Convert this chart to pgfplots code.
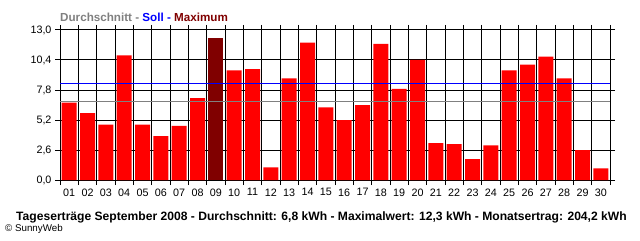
\documentclass[border=0pt]{standalone}
\usepackage{pgfplots}
\pgfplotsset{compat=1.18}
\usepackage{fontspec}
\setmainfont{Liberation Sans}
\definecolor{barred}{HTML}{FF0000}
\definecolor{maxred}{HTML}{800000}
\definecolor{avggrey}{HTML}{808080}
\definecolor{sollblue}{HTML}{0000FF}
\begin{document}
\begin{tikzpicture}[x=1bp,y=1bp]
\useasboundingbox (0,0) rectangle (640,240);
\begin{axis}[
  at={(60bp,60bp)}, anchor=south west,
  scale only axis, width=550bp, height=150bp,
  xmin=0.5, xmax=30.5, ymin=0, ymax=13,
  xtick={0.5,1.5,2.5,3.5,4.5,5.5,6.5,7.5,8.5,9.5,10.5,11.5,12.5,13.5,14.5,15.5,16.5,17.5,18.5,19.5,20.5,21.5,22.5,23.5,24.5,25.5,26.5,27.5,28.5,29.5,30.5},
  xticklabels={01,02,03,04,05,06,07,08,09,10,11,12,13,14,15,16,17,18,19,20,21,22,23,24,25,26,27,28,29,30},
  x tick label as interval,
  ytick={0,2.6,5.2,7.8,10.4,13},
  /pgf/number format/assume math mode=true,
  yticklabel style={/pgf/number format/.cd, fixed, fixed zerofill, precision=1, use comma},
  ticklabel style={font=\fontsize{10.8}{12}\selectfont},
  grid=major, grid style={black, line width=1bp},
  tick align=outside, major tick length=5bp,
  tick style={black, line width=1bp},
  axis line style={black, line width=1bp},
  clip=false,
]
\addplot[ybar, bar width=15bp, bar shift=0pt, fill=barred, draw=none] coordinates {
(1,6.7) (2,5.8) (3,4.8) (4,10.8) (5,4.8) (6,3.8) (7,4.7) (8,7.1)
(10,9.5) (11,9.6) (12,1.1) (13,8.8) (14,11.9) (15,6.3) (16,5.2) (17,6.5)
(18,11.8) (19,7.9) (20,10.4) (21,3.2) (22,3.1) (23,1.8) (24,3.0) (25,9.5)
(26,10.0) (27,10.7) (28,8.8) (29,2.6) (30,1.0)};
\addplot[ybar, bar width=15bp, bar shift=0pt, fill=maxred, draw=none] coordinates {(9,12.3)};
\addplot[avggrey, line width=1bp, mark=none] coordinates {(0.5,6.8) (30.5,6.8)};
\addplot[sollblue, line width=1bp, mark=none] coordinates {(0.5,8.4) (30.5,8.4)};
\end{axis}
\node[anchor=west, inner sep=0pt, font=\bfseries\fontsize{11.7}{13}\selectfont] at (60,223)
  {\textcolor{avggrey}{Durchschnitt -} \textcolor{sollblue}{Soll -} \textcolor{maxred}{Maximum}};
\node[anchor=west, inner sep=0pt, font=\bfseries\fontsize{12.15}{14}\selectfont] at (16,23)
  {Tageserträge September 2008 - Durchschnitt: 6,8 kWh - Maximalwert: 12,3 kWh - Monatsertrag: 204,2 kWh};
\node[anchor=west, inner sep=0pt, font=\fontsize{9.8}{11}\selectfont] at (5,11) {© SunnyWeb};
\end{tikzpicture}
\end{document}
